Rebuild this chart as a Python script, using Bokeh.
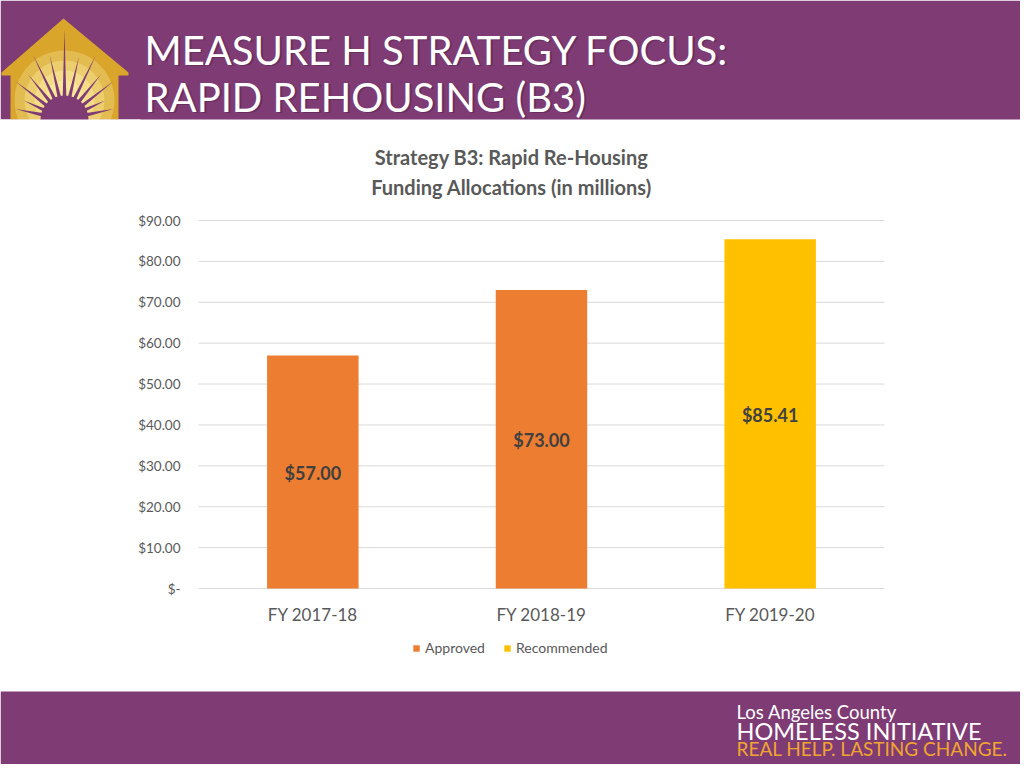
import math
from bokeh.plotting import figure
from bokeh.models import (Range1d, FixedTicker, LinearAxis, Legend, LegendItem,
                          ColumnDataSource)
from bokeh.core.properties import value
from bokeh.embed import file_html
from bokeh.resources import INLINE

# ---------------- data ----------------
categories = ["FY 2017-18", "FY 2018-19", "FY 2019-20"]
values = [57.00, 73.00, 85.41]
status = ["Approved", "Approved", "Recommended"]
series_names = ["Approved", "Recommended"]
series_colors = ["#ED7D31", "#FFC000"]
y_ticks = [0, 10, 20, 30, 40, 50, 60, 70, 80, 90]
y_tick_labels = ["$-", "$10.00", "$20.00", "$30.00", "$40.00", "$50.00",
                 "$60.00", "$70.00", "$80.00", "$90.00"]
chart_title = ["Strategy B3: Rapid Re-Housing", "Funding Allocations (in millions)"]
slide_title = ["MEASURE H STRATEGY FOCUS:", "RAPID REHOUSING (B3)"]
footer_lines = ["Los Angeles County", "HOMELESS INITIATIVE", "REAL HELP. LASTING CHANGE."]

PURPLE = "#7E3B74"
FONT = "Lato"
GRAY = "#595959"

W, H = 1020, 764
# plot area (screen px)
PL, PR, PT, PB = 198, 884, 220, 588
kx = (PR - PL) / len(categories)
ky = (PB - PT) / (y_ticks[-1] - y_ticks[0])

p = figure(width=W, height=H,
           x_range=Range1d(-PL / kx, len(categories) + (W - PR) / kx),
           y_range=Range1d(-(H - PB) / ky, y_ticks[-1] + PT / ky),
           x_axis_location=None, y_axis_location=None, min_border=0,
           toolbar_location=None, output_backend="svg", outline_line_color=None,
           background_fill_color="white", border_fill_color="white")
p.grid.visible = False
p.extra_x_ranges = {"px": Range1d(0, W)}
p.extra_y_ranges = {"px": Range1d(H, 0)}
PX = dict(x_range_name="px", y_range_name="px")

# ---------------- header / footer bands ----------------
p.quad(left=0, right=W, top=0, bottom=119, fill_color=PURPLE, line_color=None, **PX)
p.quad(left=0, right=W, top=691, bottom=H, fill_color=PURPLE, line_color=None, **PX)

# logo: gold house with sunburst
house_x = [63, 128, 128, 118, 118, 10, 10, 1, 1]
house_y = [18, 72, 75, 75, 119, 119, 75, 75, 72]
p.patch(house_x, house_y, fill_color="#D9A62B", line_color=None, **PX)
for r, a in [(50, 0.3), (40, 0.35), (30, 0.45), (20, 0.5)]:
    p.circle(x=[64], y=[100], radius=r, fill_color="#FCF0A8", fill_alpha=a,
             line_color=None, **PX)

def boundary(theta):
    cx, cy = 64.0, 119.0
    dx, dy = math.cos(theta), -math.sin(theta)
    for i in range(1, 300):
        t = i * 0.5
        x, y = cx + dx * t, cy + dy * t
        if x <= 10 or x >= 118:
            return t
        ry = 18 + (63 - x) * 54 / 62 if x <= 63 else 18 + (x - 63) * 54 / 65
        if y <= ry:
            return t
    return 100

rx, ry_ = [], []
n = 13
for i in range(n):
    th = math.radians(12 + i * (156 / (n - 1)))
    L = boundary(th) * (0.9 if i % 2 == 0 else 0.75)
    w = math.radians(5)
    r0 = 21
    rx.append([64 + r0 * math.cos(th - w), 64 + L * math.cos(th), 64 + r0 * math.cos(th + w)])
    ry_.append([119 - r0 * math.sin(th - w), 119 - L * math.sin(th), 119 - r0 * math.sin(th + w)])
p.patches(rx, ry_, fill_color=PURPLE, line_color=None, **PX)
p.circle(x=[64], y=[119], radius=24, fill_color=PURPLE, line_color=None, **PX)
# cover the part of the disc that would go below the header
p.quad(left=0, right=140, top=119, bottom=150, fill_color="white", line_color=None, **PX)

p.text(x=[146, 146], y=[50, 97], text=slide_title, text_font=value(FONT),
       text_font_size="40px", text_color="#3A1A36", text_alpha=0.35,
       text_baseline="middle", **PX)
p.text(x=[144, 144], y=[49, 96], text=slide_title, text_font=value(FONT),
       text_font_size="40px", text_color="white", text_baseline="middle", **PX)

# footer texts
p.text(x=[736], y=[711], text=[footer_lines[0]], text_font=value(FONT),
       text_font_size="18.5px", text_color="white", text_baseline="middle", **PX)
p.text(x=[736], y=[730], text=[footer_lines[1]], text_font=value(FONT),
       text_font_size="23.5px", text_color="white", text_baseline="middle", **PX)
p.text(x=[736], y=[748], text=[footer_lines[2]], text_font=value(FONT),
       text_font_size="19px", text_color="#F0A531", text_baseline="middle", **PX)

# ---------------- chart ----------------
cat_x = [i + 0.5 for i in range(len(categories))]

p.segment(x0=[0] * len(y_ticks), x1=[len(categories)] * len(y_ticks),
          y0=y_ticks, y1=y_ticks, line_color="#D9D9D9", line_width=1)

items = []
for name, color in zip(series_names, series_colors):
    idx = [i for i, s in enumerate(status) if s == name]
    src = ColumnDataSource(dict(x=[cat_x[i] for i in idx], top=[values[i] for i in idx]))
    r = p.vbar(x="x", top="top", width=0.4, source=src, fill_color=color, line_color=None)
    items.append(LegendItem(label=name, renderers=[r]))

p.text(x=cat_x, y=[v / 2 for v in values], text=[f"${v:.2f}" for v in values],
       text_font=value(FONT), text_font_style="bold", text_font_size="18px",
       text_color="#404040", text_align="center", text_baseline="middle", y_offset=1)

p.text(x=[511, 511], y=[156, 186], text=chart_title, text_font=value(FONT),
       text_font_style="bold", text_font_size="20px", text_color=GRAY,
       text_align="center", text_baseline="middle", **PX)

yaxis = LinearAxis(fixed_location=0, ticker=FixedTicker(ticks=y_ticks),
                   major_label_overrides=dict(zip(y_ticks, y_tick_labels)))
xaxis = LinearAxis(fixed_location=0, ticker=FixedTicker(ticks=cat_x),
                   major_label_overrides=dict(zip(cat_x, categories)))
for ax in (xaxis, yaxis):
    ax.axis_line_color = None
    ax.major_tick_line_color = None
    ax.minor_tick_line_color = None
    ax.major_label_text_font = FONT
    ax.major_label_text_color = GRAY
yaxis.major_label_text_font_size = "13.5px"
yaxis.major_label_standoff = 12
xaxis.major_label_text_font_size = "17px"
xaxis.major_label_standoff = 9
p.add_layout(yaxis, "left")
p.add_layout(xaxis, "below")

legend = Legend(items=items, orientation="horizontal", location=(412, H - 656),
                glyph_width=8, glyph_height=8, label_standoff=5, spacing=18,
                padding=0, margin=0, border_line_color=None, background_fill_alpha=0,
                label_text_font=FONT, label_text_font_size="14px",
                label_text_color=GRAY, label_height=16)
p.add_layout(legend)

open("out.html", "w").write(file_html(p, INLINE))
